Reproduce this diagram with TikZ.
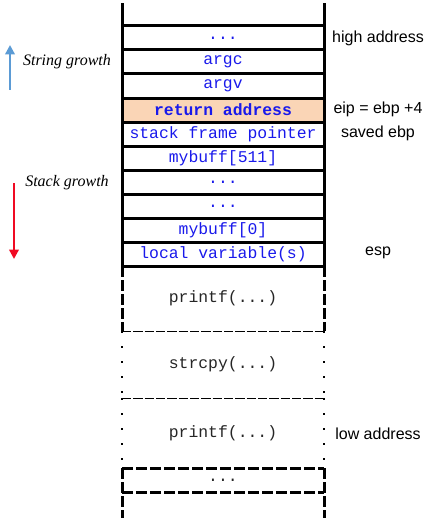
\documentclass[tikz,border=0pt]{standalone}
\usepackage{fontspec}
\setmainfont{Liberation Sans}
\newfontfamily\codefont{Liberation Mono}
\newfontfamily\notefont{Liberation Serif}
\usetikzlibrary{arrows.meta}
\definecolor{retfill}{RGB}{250,213,182}
\definecolor{codeblue}{RGB}{25,25,235}
\definecolor{upblue}{RGB}{91,155,213}
\definecolor{downred}{RGB}{240,10,35}
\tikzset{
  cell/.style={draw, line width=2.25pt, outer sep=0pt, inner sep=0pt,
    minimum width=151.5pt, minimum height=18pt, text=codeblue,
    font=\codefont\fontsize{12.3}{14}\selectfont},
  region/.style={outer sep=0pt, inner sep=0pt, minimum width=151.5pt,
    text=black!85, font=\codefont\fontsize{12.3}{14}\selectfont},
  frame/.style={line width=2.25pt},
  thickdash/.style={line width=2.25pt, dash pattern=on 8.5pt off 2pt},
  sparsedash/.style={line width=1.5pt, dash pattern=on 1.5pt off 9.75pt},
  thindash/.style={line width=0.75pt, dash pattern=on 7pt off 1.5pt},
  addr/.style={font=\fontsize{12}{14}\selectfont},
  growth/.style={font=\notefont\itshape\fontsize{12}{14}\selectfont}
}
\begin{document}
\begin{tikzpicture}[x=0.75pt,y=0.75pt,yscale=-1,xscale=1]
\useasboundingbox (0,0) rectangle (433,528);

% stack cells
\node[cell] (top) at (223,38) {...};
\node[cell] (argc) at (223,62) {argc};
\node[cell] (argv) at (223,86) {argv};
\node[cell, fill=retfill, font=\codefont\bfseries\fontsize{12.3}{14}\selectfont] (ret) at (223,110) {return address};
\node[cell] (sfp) at (223,134) {stack frame pointer};
\node[cell] (buffhi) at (223,158) {mybuff[511]};
\node[cell] (dotsA) at (223,182) {...};
\node[cell] (dotsB) at (223,206) {...};
\node[cell] (bufflo) at (223,230) {mybuff[0]};
\node[cell] (local) at (223,254) {local variable(s)};

% open top of the stack
\draw[frame] (top.north west) -- ++(0,-23);
\draw[frame] (top.north east) -- ++(0,-23);

% called functions below
\node[region, minimum height=48.75pt] (printfA) at (223,298.5) {printf(...)};
\node[region, minimum height=50.25pt] (strcpy) at (223,364.5) {strcpy(...)};
\node[region, minimum height=52.5pt] (printfB) at (223,433) {printf(...)};
\node[region, minimum height=18pt] (dotsC) at (223,480) {...};
\coordinate (tailW) at (122,518);
\coordinate (tailE) at (324,518);

\draw[thickdash] (printfA.north west) -- (printfA.south west);
\draw[thickdash] (printfA.north east) -- (printfA.south east);
\draw[thindash] (printfA.south west) -- (printfA.south east);
\draw[sparsedash] (strcpy.north west) -- (strcpy.south west);
\draw[sparsedash] (strcpy.north east) -- (strcpy.south east);
\draw[thindash] (strcpy.south west) -- (strcpy.south east);
\draw[sparsedash] (printfB.north west) -- (printfB.south west);
\draw[sparsedash] (printfB.north east) -- (printfB.south east);
\draw[thickdash] (dotsC.north west) -- (dotsC.north east);
\draw[thickdash] (dotsC.south west) -- (dotsC.south east);
\draw[thickdash] (dotsC.north west) -- (tailW);
\draw[thickdash] (dotsC.north east) -- (tailE);

% addresses
\node[addr] (high) at (378,38) {high address};
\node[addr] (eip) at (378,109) {eip = ebp +4};
\node[addr] (saved) at (378,133) {saved ebp};
\node[addr] (esp) at (378,253) {esp};
\node[addr] (low) at (378,434) {low address};

% growth directions
\node[growth] (strgrow) at (67,62) {String growth};
\node[growth] (stkgrow) at (67,183) {Stack growth};
\coordinate (upS) at (10,90);
\coordinate (upE) at (10,45);
\coordinate (downS) at (14,183);
\coordinate (downE) at (14,259);
\draw[upblue, line width=1.7pt, -{Triangle[length=7pt,width=7pt]}] (upS) -- (upE);
\draw[downred, line width=1.7pt, -{Triangle[length=7pt,width=7pt]}] (downS) -- (downE);
\end{tikzpicture}
\end{document}
